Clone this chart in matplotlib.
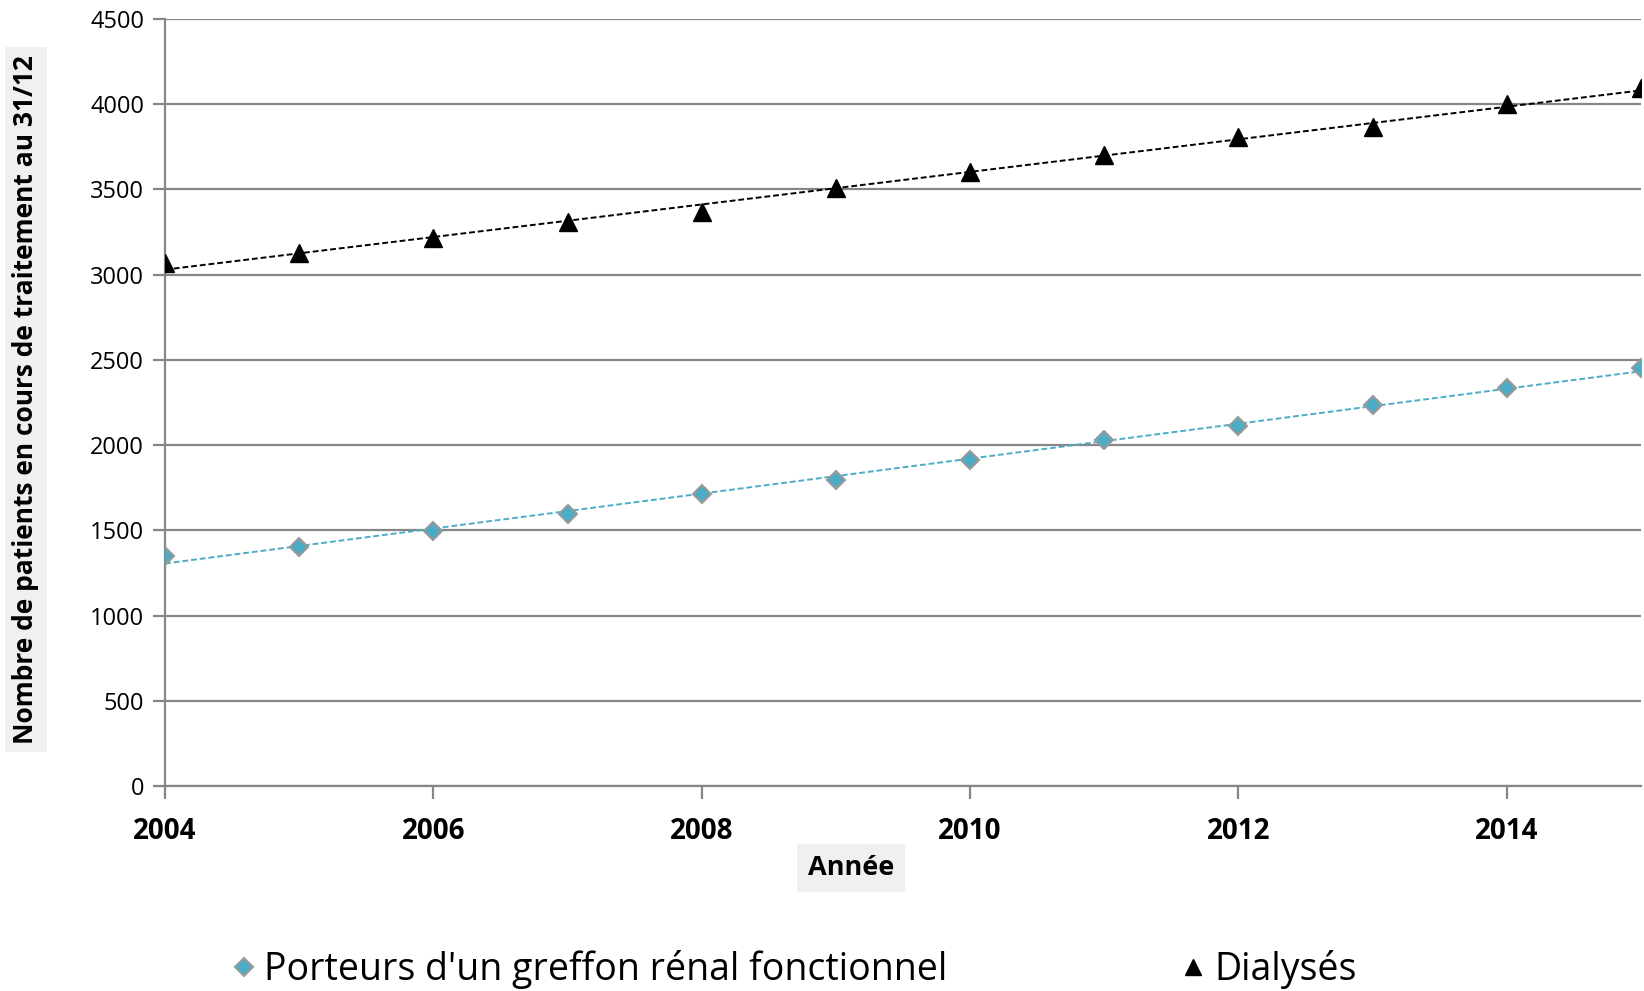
import numpy as np
import matplotlib
matplotlib.use("Agg")
import matplotlib.pyplot as plt
from matplotlib.lines import Line2D

plt.rcParams['font.family'] = ['Open Sans', 'DejaVu Sans']

# données
annees = [2004, 2005, 2006, 2007, 2008, 2009, 2010, 2011, 2012, 2013, 2014, 2015]
greffes = [1349, 1404, 1496, 1595, 1712, 1798, 1915, 2032, 2112, 2235, 2334, 2451]
dialyses = [3066, 3128, 3214, 3307, 3368, 3510, 3602, 3701, 3805, 3867, 4002, 4095]
lab_greffe = "Porteurs d'un greffon rénal fonctionnel"
lab_dial = "Dialysés"
ylabel = "Nombre de patients en cours de traitement au 31/12"
xlabel = "Année"

bleu = '#4BACC6'
gris = '#868686'

fig = plt.figure(figsize=(16.44, 9.91), dpi=100)
ax = fig.add_axes((0.1004, 0.2069, 0.8978, 0.7739))

x = np.array(annees)
# courbes de tendance linéaires
for y, c in ((greffes, bleu), (dialyses, 'black')):
    p = np.polyfit(x, y, 1)
    xx = np.array([2004, 2015])
    ax.plot(xx, np.polyval(p, xx), ls=(0, (3, 1.5)), color=c, lw=1.4, zorder=3)

ax.plot(x, greffes, ls='none', marker='D', ms=9, mfc=bleu, mec='#9a9a9a',
        mew=1.5, zorder=4)
ax.plot(x, dialyses, ls='none', marker='^', ms=13, mfc='black', mec='black',
        zorder=4)

ax.set_xlim(2004, 2015)
ax.set_ylim(0, 4500)
ax.set_yticks(np.arange(0, 4501, 500))
ax.set_xticks(np.arange(2004, 2015, 2))
ax.yaxis.grid(True, color=gris, lw=1.6)
ax.set_axisbelow(True)
for s in ('top', 'right'):
    ax.spines[s].set_visible(False)
for s in ('left', 'bottom'):
    ax.spines[s].set_color(gris)
    ax.spines[s].set_linewidth(1.6)
ax.tick_params(axis='y', length=9, width=1.6, color=gris, labelsize=17,
               pad=6)
ax.tick_params(axis='x', length=9, width=1.6, color=gris, labelsize=20,
               pad=13)
for t in ax.get_xticklabels():
    t.set_fontweight('bold')

fig.text(0.0158, 0.597, ylabel, rotation=90, ha='center', va='center',
         fontsize=19, fontweight='bold',
         bbox=dict(boxstyle='square,pad=0.3', fc='#f0f0f0', ec='none'))
fig.text(0.5176, 0.1241, xlabel, ha='center', va='center', fontsize=19.5,
         fontweight='bold',
         bbox=dict(boxstyle='square,pad=0.4', fc='#f0f0f0', ec='none'))

handles = [
    Line2D([], [], ls='none', marker='D', ms=9, mfc=bleu, mec='#9a9a9a',
           mew=1.5),
    Line2D([], [], ls='none', marker='^', ms=12, mfc='black', mec='black'),
]
fig.legend(handles, [lab_greffe, lab_dial], loc='center',
           bbox_to_anchor=(0.481, 0.022), ncol=2, frameon=False,
           prop={'size': 27},
           handletextpad=0.05, columnspacing=6.05, handlelength=1.0)

fig.savefig('out.png', dpi=100)
